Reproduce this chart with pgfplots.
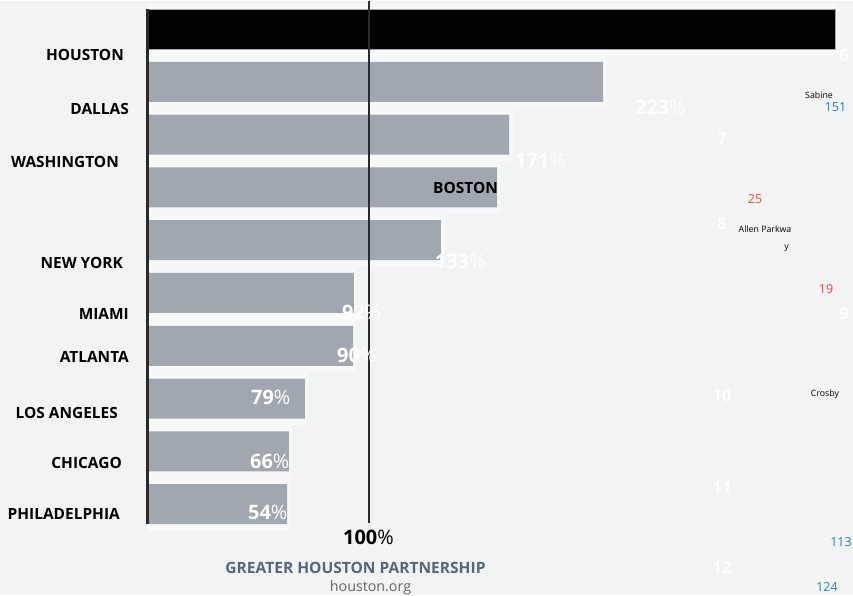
\documentclass[border=0pt]{standalone}
\usepackage{pgfplots}
\pgfplotsset{compat=1.18}
\usepackage{fontspec}
\setmainfont{Open Sans}
\definecolor{bg}{HTML}{F2F3F3}
\definecolor{barg}{HTML}{A0A7AF}
\definecolor{halo}{HTML}{F7F8F8}
\definecolor{lineg}{HTML}{2A2A2A}
\definecolor{ghp}{HTML}{566779}
\definecolor{web}{HTML}{666666}
\definecolor{blu}{HTML}{2B7BC4}
\definecolor{rd}{HTML}{E8483B}
\newcommand{\fs}[1]{\fontsize{#1}{#1}\selectfont}
\begin{document}
\begin{tikzpicture}
\fill[bg] (0,0) rectangle (853bp,594bp);
\begin{axis}[at={(0,0)}, anchor=south west, scale only axis,
  width=853bp, height=594bp,
  xmin=-66.5, xmax=318.1, ymin=-0.5305, ymax=10.724,
  y dir=reverse, hide axis, clip=false]
% light halo behind the bars
\addplot[xbar, bar shift=0pt, bar width=52.8bp, fill=halo, draw=none]
  coordinates {(311,0) (207,1) (165,2) (159,3) (134,4) (94,5) (94,6) (72,7) (65,8) (64,9)};
% Houston
\addplot[xbar, bar shift=0pt, bar width=40bp, fill=black, draw=gray!70, line width=0.8bp]
  coordinates {(310.0,0)};
% other metros
\addplot[xbar, bar shift=0pt, bar width=40bp, fill=barg, draw=none]
  coordinates {(205.4,1) (163.0,2) (157.6,3) (132.3,4) (93.1,5) (92.7,6) (71.0,7) (63.8,8) (62.9,9)};
% axis line and 100% line
\addplot[lineg, line width=2.2bp] coordinates {(0,-0.38) (0,9.37)};
\addplot[lineg, line width=2.2bp] coordinates {(100,-0.5305) (100,9.36)};
\end{axis}
% city labels
\begin{scope}[every node/.style={inner sep=0pt, font=\bfseries\fs{15.5}}]
\node[anchor=base east] at (124bp,535bp) {HOUSTON};
\node[anchor=base east] at (129bp,481bp) {DALLAS};
\node[anchor=base east] at (119bp,428bp) {WASHINGTON};
\node[anchor=base west] at (433bp,402bp) {BOSTON};
\node[anchor=base east] at (123bp,327bp) {NEW YORK};
\node[anchor=base east] at (129bp,276bp) {MIAMI};
\node[anchor=base east] at (129bp,233bp) {ATLANTA};
\node[anchor=base east] at (118bp,177bp) {LOS ANGELES};
\node[anchor=base east] at (122bp,127bp) {CHICAGO};
\node[anchor=base east] at (120bp,76bp) {PHILADELPHIA};
\end{scope}
% percent labels
\begin{scope}[every node/.style={inner sep=0pt, anchor=base west, text=white, font=\fs{20}}]
\node at (635bp,481bp) {\textbf{223}\%};
\node at (515bp,428bp) {\textbf{171}\%};
\node at (435bp,327bp) {\textbf{133}\%};
\node at (342bp,276bp) {\textbf{92}\%};
\node at (337bp,233bp) {\textbf{90}\%};
\node at (251bp,191bp) {\textbf{79}\%};
\node at (250bp,127bp) {\textbf{66}\%};
\node at (248bp,76bp) {\textbf{54}\%};
\node[text=black] at (343bp,51bp) {\textbf{100}\%};
\end{scope}
\node[anchor=base, inner sep=0pt, text=ghp, font=\bfseries\fs{15.6}] at (355.5bp,22bp) {GREATER HOUSTON PARTNERSHIP};
\node[anchor=base, inner sep=0pt, text=web, font=\fs{14.3}] at (370.5bp,3.5bp) {houston.org};
% stray white numbers
\begin{scope}[every node/.style={inner sep=0pt, anchor=base, text=white, font=\bfseries\fs{16.5}}]
\node at (844bp,534bp) {6};
\node at (722bp,451bp) {7};
\node at (722bp,366bp) {8};
\node at (844bp,276bp) {9};
\node at (722bp,194bp) {10};
\node at (722bp,102bp) {11};
\node at (722bp,22bp) {12};
\end{scope}
% stray small texts
\begin{scope}[every node/.style={inner sep=0pt, anchor=base, font=\fs{8.8}}]
\node at (819bp,497bp) {Sabine};
\node at (765bp,363bp) {Allen Parkwa};
\node at (786.5bp,346bp) {y};
\node at (825bp,199bp) {Crosby};
\end{scope}
\begin{scope}[every node/.style={inner sep=0pt, anchor=base, font=\fs{12.5}}]
\node[text=blu] at (835.5bp,484bp) {151};
\node[text=rd] at (755bp,392bp) {25};
\node[text=rd] at (826bp,302bp) {19};
\node[text=blu] at (841bp,49bp) {113};
\node[text=blu] at (827bp,4bp) {124};
\end{scope}
\end{tikzpicture}
\end{document}
